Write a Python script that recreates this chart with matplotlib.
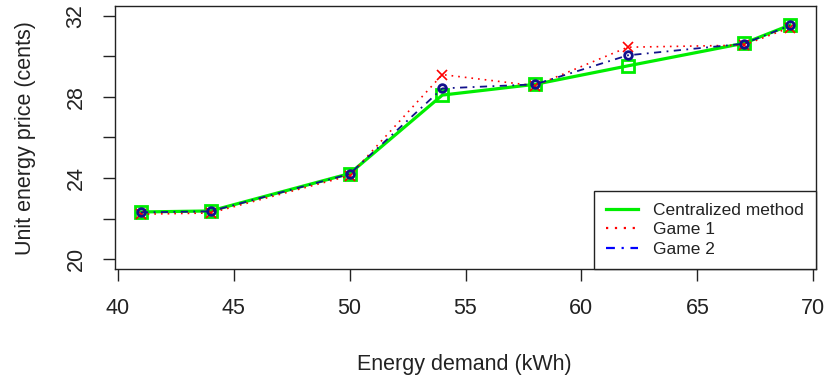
import matplotlib
matplotlib.use("Agg")
import matplotlib.pyplot as plt
from matplotlib.lines import Line2D

# values
demand = [41, 44, 50, 54, 58, 62, 67, 69]
centralized = [22.33, 22.38, 24.22, 28.09, 28.62, 29.53, 30.64, 31.54]
game1 = [22.22, 22.28, 24.12, 29.10, 28.55, 30.45, 30.55, 31.42]
game2 = [22.31, 22.36, 24.20, 28.42, 28.62, 30.05, 30.62, 31.52]

x_ticks = [40, 45, 50, 55, 60, 65, 70]
y_ticks = [20, 22, 24, 26, 28, 30, 32]
y_ticklabels = ["20", "", "24", "", "28", "", "32"]

plt.rcParams["font.family"] = ["Liberation Sans", "DejaVu Sans"]
INK = "#222222"


def main():
    fig = plt.figure(figsize=(8.25, 3.83), dpi=100)
    ax = fig.add_axes([0.1394, 0.2977, 0.8497, 0.6866])

    ax.plot(demand, centralized, color="#00ee00", lw=2.3, marker="s",
            markersize=8, markerfacecolor="none", markeredgewidth=2.0, zorder=2)
    ax.plot(demand, game1, color="red", lw=1.2, ls=(0, (1, 3)), marker="x",
            markersize=7.5, markeredgewidth=1.2, zorder=3)
    ax.plot(demand, game2, color="#12128c", lw=1.3, ls=(0, (4, 3, 1, 3)),
            marker="o", markersize=5.5, markerfacecolor="none",
            markeredgewidth=2.0, zorder=4)

    ax.set_xlim(39.88, 70.12)
    ax.set_ylim(19.52, 32.48)
    ax.set_xticks(x_ticks)
    ax.set_yticks(y_ticks)
    ax.set_yticklabels(y_ticklabels, rotation=90, va="center")

    for s in ax.spines.values():
        s.set_color(INK)
        s.set_linewidth(1.0)
    ax.tick_params(direction="out", length=8.6, width=1.0, color=INK,
                   labelsize=15.5, labelcolor=INK, pad=12)

    ax.set_xlabel("Energy demand (kWh)", fontsize=15.5, color=INK)
    ax.set_ylabel("Unit energy price (cents)", fontsize=15.5, color=INK)
    ax.xaxis.set_label_coords(0.499, -0.323)
    ax.yaxis.set_label_coords(-0.112, 0.498)

    handles = [
        Line2D([], [], color="#00ee00", lw=2.3),
        Line2D([], [], color="red", lw=1.6, ls=(0, (1, 3))),
        Line2D([], [], color="blue", lw=1.6, ls=(0, (4, 3, 1, 3))),
    ]
    leg = ax.legend(handles, ["Centralized method", "Game 1", "Game 2"],
                    loc="lower right", borderaxespad=0, fontsize=12.5,
                    fancybox=False, framealpha=1, edgecolor=INK,
                    handlelength=1.85, handletextpad=0.85, labelspacing=0.25,
                    borderpad=0.7)
    leg.get_frame().set_linewidth(1.0)
    for t in leg.get_texts():
        t.set_color(INK)

    fig.savefig("out.png", dpi=100)


if __name__ == "__main__":
    main()
